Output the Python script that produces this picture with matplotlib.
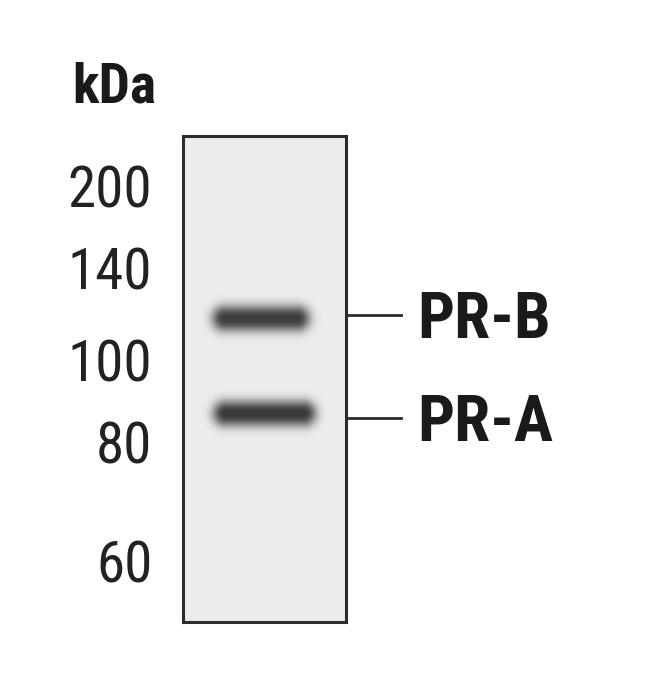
import numpy as np
import matplotlib
matplotlib.use("Agg")
from matplotlib import pyplot as plt
from matplotlib import font_manager

# marker ladder (kDa) and relative migration along the lane (0 = top of blot, 1 = bottom)
marker_kda = [200, 140, 100, 80, 60]
marker_rf = [0.103, 0.272, 0.461, 0.630, 0.875]

# detected bands (position along lane, left/right edges across lane)
band_names = ["PR-B", "PR-A"]
band_rf = [0.375, 0.571]
band_x0 = [0.175, 0.181]
band_x1 = [0.782, 0.82]
band_intensity = [0.97, 1.0]
label_rf = [0.368, 0.580]

installed = {f.name for f in font_manager.fontManager.ttflist}
family = "Liberation Sans"
for cand in ["Roboto Condensed", "Archivo Narrow", "PT Sans Narrow", "Liberation Sans Narrow"]:
    if cand in installed:
        family = cand
        break
plt.rcParams['font.family'] = [family, 'DejaVu Sans']

fig = plt.figure(figsize=(6.5, 6.83), dpi=100)
ax = fig.add_axes([183/650, 1 - 622/683, 163/650, 486/683])
lane_w, lane_h = 163, 486  # lane size in pixels, for band shape

# lane image: light grey membrane with soft capsule-shaped bands
ny, nx = 486, 163
yy, xx = np.mgrid[0:1:ny*1j, 0:1:nx*1j]
dark = np.zeros_like(yy)
for rf, x0, x1, k in zip(band_rf, band_x0, band_x1, band_intensity):
    xc = (x0 + x1) / 2
    hw = (x1 - x0) / 2 * lane_w - 13
    dx = np.maximum(0, np.abs(xx - xc) * lane_w - hw)
    dy = (yy - rf) * lane_h
    r = np.hypot(dx, dy)
    dark += k * np.exp(-0.5 * (r / 10.0) ** 2.5)
img = 0.925 - 0.70 * np.clip(dark, 0, 1)
ax.imshow(img, cmap="gray", vmin=0, vmax=1, extent=(0, 1, 1, 0), aspect="auto",
          interpolation="bilinear")

ax.set_xlim(0, 1)
ax.set_ylim(1, 0)
for s in ax.spines.values():
    s.set_linewidth(2.2)
    s.set_color("#2b2b2b")
ax.set_xticks([])
ax.set_yticks(marker_rf)
ax.set_yticklabels([str(m) for m in marker_kda], fontsize=41, color="#222222")
ax.tick_params(axis="y", length=0, pad=22)

ax.text(-0.68, 1.099, "kDa", transform=ax.transAxes, fontsize=40, fontweight="bold",
        ha="left", va="center", color="#1a1a1a")

for name, rf in zip(band_names, label_rf):
    ax.plot([1.01, 1.34], [rf, rf], color="#2b2b2b", lw=2.0, clip_on=False,
            transform=ax.get_yaxis_transform())
    ax.text(1.44, rf + 0.012, name, transform=ax.get_yaxis_transform(), fontsize=47,
            fontweight="bold", ha="left", va="center", color="#1a1a1a")

fig.savefig("out.png", dpi=100)
